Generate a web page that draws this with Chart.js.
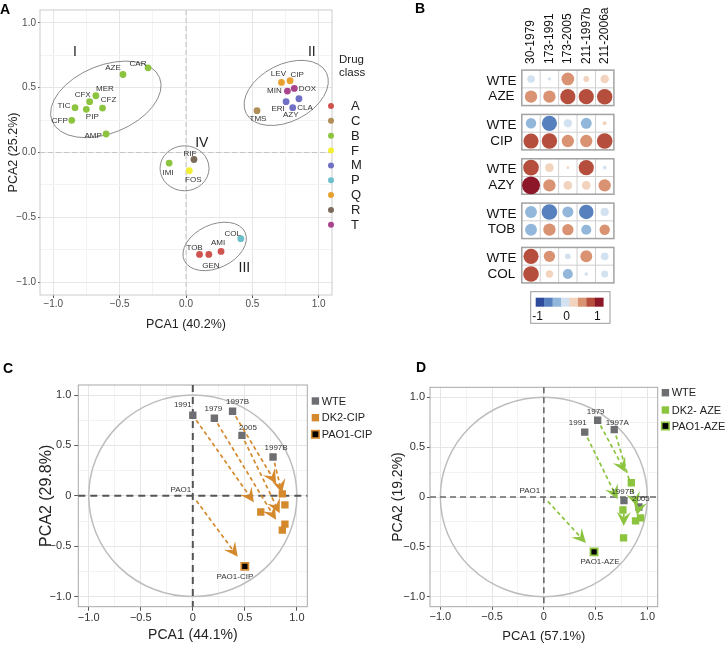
<!DOCTYPE html>
<html>
<head>
<meta charset="utf-8">
<script src="https://cdn.jsdelivr.net/npm/chart.js@4.4.1/dist/chart.umd.min.js"></script>
<style>
html, body { margin: 0; padding: 0; background: #fff; }
#wrap { position: relative; width: 726px; height: 646px; overflow: hidden; }
canvas { position: absolute; }
.tag { position: absolute; font: bold 14px "Liberation Sans", Arial, sans-serif; color: #000; }
</style>
</head>
<body>
<div id="wrap">
  <canvas id="chartA" width="400" height="335" style="left:0;top:0"></canvas>
  <canvas id="chartB" width="366" height="330" style="left:360px;top:0"></canvas>
  <canvas id="chartC" width="400" height="311" style="left:0;top:335px"></canvas>
  <canvas id="chartD" width="366" height="311" style="left:360px;top:335px"></canvas>
  <div class="tag" style="left:0;top:1px">A</div>
  <div class="tag" style="left:415px;top:0">B</div>
  <div class="tag" style="left:3px;top:360px">C</div>
  <div class="tag" style="left:416px;top:359px">D</div>
</div>
<script>
// ---------- data: panel A (drug PCA) ----------
const drugNames = ['CAR','AZE','MER','CFX','CFZ','TIC','PIP','CFP','AMP','IMI','RIF','FOS','COL','AMI','GEN','TOB','LEV','CIP','MIN','DOX','ERI','CLA','AZY','TMS'];
const drugPca1 = [-0.286,-0.475,-0.679,-0.726,-0.629,-0.836,-0.751,-0.861,-0.602,-0.127,0.060,0.025,0.413,0.264,0.172,0.102,0.719,0.784,0.764,0.816,0.754,0.851,0.804,0.535];
const drugPca2 = [0.654,0.602,0.438,0.392,0.343,0.346,0.333,0.248,0.143,-0.082,-0.054,-0.141,-0.665,-0.764,-0.787,-0.787,0.541,0.554,0.474,0.495,0.392,0.415,0.346,0.323];
const drugClass = ['B','B','B','B','B','B','B','B','B','B','R','F','P','A','A','A','Q','Q','T','T','M','M','M','C'];
const classOrder = ['A','C','B','F','M','P','Q','R','T'];
const classColors = ['#cf5450','#b18e58','#8cc43f','#f2ee35','#7070c4','#6cbfcb','#e8a031','#7b6b5a','#a9448d'];
const clusterNames = ['I','II','III','IV'];
const clusterCx = [-0.604, 0.755, 0.216, -0.011];
const clusterCy = [0.41, 0.46, -0.725, -0.122];

// ---------- data: panel B (correlations) ----------
const strainCols = ['30-1979','173-1991','173-2005','211-1997b','211-2006a'];
const drugRows = ['AZE','CIP','AZY','TOB','COL'];
const corrWTE = [
  [-0.17, -0.03, 0.48, 0.10, 0.21],
  [-0.32, -0.68, -0.20, -0.35, 0.05],
  [0.72, 0.22, 0.02, 0.68, -0.04],
  [-0.42, -0.72, -0.36, -0.62, -0.20],
  [0.68, 0.38, -0.10, 0.42, -0.18]
];
const corrDrug = [
  [0.45, 0.45, 0.68, 0.68, 0.70],
  [0.68, 0.70, 0.45, 0.45, 0.72],
  [0.95, 0.45, 0.22, 0.22, 0.45],
  [-0.42, 0.45, 0.38, -0.30, 0.32],
  [0.72, 0.16, -0.30, -0.04, -0.15]
];
const binColors = ['#2e4b9b','#5680be','#93b7da','#d3e2f0','#f2d3be','#d99372','#b54e3c','#8c1729'];

// ---------- data: panel C (CIP) ----------
const wteNamesC = ['1991','1979','1997B','2005','1997B'];
const wteC1 = [0, 0.207, 0.382, 0.472, 0.771];
const wteC2 = [0.80, 0.77, 0.84, 0.60, 0.386];
const dk2C1 = [0.653, 0.86, 0.86, 0.885, 0.885];
const dk2C2 = [-0.16, -0.34, 0.02, -0.28, -0.09];
const paoC = [0.5, -0.70];

// ---------- data: panel D (AZE) ----------
const wteNamesD = ['1991','1979','1997A','1997B','2005'];
const wteD1 = [0.395, 0.52, 0.68, 0.774, 0.918];
const wteD2 = [0.65, 0.77, 0.675, -0.036, -0.10];
const dk2D1 = [0.764, 0.845, 0.935, 0.77, 0.886];
const dk2D2 = [-0.13, 0.143, -0.21, -0.41, -0.24];
const paoD = [0.485, -0.55];

// ---------- layout (pixels, not data) ----------
const labelOffA = [[-10,-4],[-10,-7],[9,-7],[-7,-7],[6,-8],[-11,-2],[6,7],[-12,0],[-13,2],[-1,10],[-4,-6],[4,9],[-8,-5],[-3,-9],[2,11],[-5,-7],[-3,-9],[7,-6],[-13,0],[13,0],[-8,7],[6,9],[-2,7],[1,8]];
const ellipseShape = [[58,34,-22],[45,28.5,-27],[33.5,21.7,-25],[24.5,22.5,0]];
const romanPos = [[-0.836,0.772],[0.948,0.772],[0.44,-0.89],[0.119,0.072]];
const labelOffC = [[-10,-10],[-1,-9],[5,-9],[6,-8],[3,-9]];
const labelOffD = [[-7,-9],[-2,-8],[3,-7],[-1,-9],[2,-8]];

Chart.defaults.font.family = "'Liberation Sans', Arial, sans-serif";
Chart.defaults.animation = false;
Chart.defaults.responsive = false;

const isMajor = v => Math.abs(v * 2 - Math.round(v * 2)) < 1e-6;
const fmt = zero => v => {
  if (!isMajor(v)) return '';
  if (Math.abs(v) < 1e-9) return zero;
  return (v < 0 ? '\u2212' : '') + Math.abs(v).toFixed(1);
};

function pcaAxis(o) {
  return {
    type: 'linear', min: -1.1, max: 1.1,
    afterFit: s => { if (o.w) s.width = o.w; if (o.h) s.height = o.h; },
    ticks: {
      stepSize: 0.25, includeBounds: false, autoSkip: false, maxRotation: 0,
      padding: o.pad, color: o.tickColor, font: { size: o.tickSize },
      callback: fmt(o.zero)
    },
    grid: {
      color: c => isMajor(c.tick.value) ? '#e6e6e6' : '#f3f3f3',
      lineWidth: 1, tickLength: o.tickLen,
      tickColor: c => isMajor(c.tick.value) ? '#555' : 'rgba(0,0,0,0)'
    },
    border: { display: false },
    title: { display: true, text: o.title, color: '#222', font: { size: o.titleSize }, padding: o.titlePad }
  };
}

// ---------- panel A ----------
const datasetsA = classOrder.map((cl, k) => ({
  label: cl,
  data: drugNames.map((n, i) => ({ x: drugPca1[i], y: drugPca2[i], c: drugClass[i] })).filter(p => p.c === cl),
  backgroundColor: classColors[k], borderWidth: 0, pointRadius: 3.4
}));

const panelA = {
  id: 'panelA',
  beforeDatasetsDraw(chart) {
    const { ctx, chartArea: a, scales: { x, y } } = chart;
    ctx.save();
    ctx.strokeStyle = '#c4c4c4'; ctx.lineWidth = 1; ctx.setLineDash([5, 3]);
    ctx.beginPath();
    ctx.moveTo(x.getPixelForValue(0), a.top); ctx.lineTo(x.getPixelForValue(0), a.bottom);
    ctx.moveTo(a.left, y.getPixelForValue(0)); ctx.lineTo(a.right, y.getPixelForValue(0));
    ctx.stroke();
    ctx.setLineDash([]);
    ctx.strokeStyle = '#cccccc';
    ctx.strokeRect(a.left, a.top, a.width, a.height);
    ctx.strokeStyle = '#8a8a8a'; ctx.lineWidth = 1;
    clusterNames.forEach((nm, i) => {
      const [rx, ry, rot] = ellipseShape[i];
      ctx.beginPath();
      ctx.ellipse(x.getPixelForValue(clusterCx[i]), y.getPixelForValue(clusterCy[i]), rx, ry, rot * Math.PI / 180, 0, 2 * Math.PI);
      ctx.stroke();
    });
    ctx.fillStyle = '#222'; ctx.font = "14px 'Liberation Sans', Arial, sans-serif";
    ctx.textAlign = 'center'; ctx.textBaseline = 'middle';
    clusterNames.forEach((nm, i) => {
      ctx.fillText(nm, x.getPixelForValue(romanPos[i][0]), y.getPixelForValue(romanPos[i][1]));
    });
    ctx.restore();
  },
  afterDatasetsDraw(chart) {
    const { ctx, scales: { x, y } } = chart;
    ctx.save();
    ctx.fillStyle = '#333'; ctx.font = "8px 'Liberation Sans', Arial, sans-serif";
    ctx.textAlign = 'center'; ctx.textBaseline = 'middle';
    drugNames.forEach((n, i) => {
      ctx.fillText(n, x.getPixelForValue(drugPca1[i]) + labelOffA[i][0], y.getPixelForValue(drugPca2[i]) + labelOffA[i][1]);
    });
    // legend
    ctx.fillStyle = '#222'; ctx.textAlign = 'left';
    ctx.font = "11.5px 'Liberation Sans', Arial, sans-serif";
    ctx.fillText('Drug', 339, 60);
    ctx.fillText('class', 339, 73);
    ctx.font = "13px 'Liberation Sans', Arial, sans-serif";
    classOrder.forEach((cl, k) => {
      const yy = 106 + k * 14.85;
      ctx.fillStyle = classColors[k];
      ctx.beginPath(); ctx.arc(331, yy, 3, 0, 2 * Math.PI); ctx.fill();
      ctx.fillStyle = '#222';
      ctx.fillText(cl, 351, yy + 0.5);
    });
    ctx.restore();
  }
};

new Chart(document.getElementById('chartA'), {
  type: 'scatter',
  data: { datasets: datasetsA },
  options: {
    layout: { padding: { left: 0, right: 68, top: 10, bottom: 0 } },
    plugins: { legend: { display: false }, tooltip: { enabled: false } },
    scales: {
      x: pcaAxis({ h: 40, pad: 0, tickColor: '#4d4d4d', tickSize: 10, zero: '0.0', tickLen: 3, title: 'PCA1 (40.2%)', titleSize: 12.5, titlePad: { top: 0, bottom: 2.5 } }),
      y: pcaAxis({ w: 40, pad: 2, tickColor: '#4d4d4d', tickSize: 10, zero: '0.0', tickLen: 2, title: 'PCA2 (25.2%)', titleSize: 12.5, titlePad: { top: 5.8, bottom: 0 } })
    }
  },
  plugins: [panelA]
});

// ---------- panel B ----------
const binColor = v => binColors[Math.min(7, Math.max(0, Math.floor((v + 1) / 0.25)))];
const pointsB = [];
drugRows.forEach((d, g) => {
  strainCols.forEach((s, c) => {
    pointsB.push({ x: c, y: g * 2.5, v: corrWTE[g][c] });
    pointsB.push({ x: c, y: g * 2.5 + 1, v: corrDrug[g][c] });
  });
});

const panelB = {
  id: 'panelB',
  beforeDatasetsDraw(chart) {
    const { ctx, scales: { x, y } } = chart;
    ctx.save();
    drugRows.forEach((d, g) => {
      const x0 = x.getPixelForValue(-0.5), x1 = x.getPixelForValue(4.5);
      const y0 = y.getPixelForValue(g * 2.5 - 0.5), y1 = y.getPixelForValue(g * 2.5 + 1.5);
      ctx.fillStyle = '#fff'; ctx.fillRect(x0, y0, x1 - x0, y1 - y0);
      ctx.strokeStyle = '#cfcfcf'; ctx.lineWidth = 1;
      ctx.beginPath();
      for (let c = 0.5; c < 4.5; c += 1) { ctx.moveTo(x.getPixelForValue(c), y0); ctx.lineTo(x.getPixelForValue(c), y1); }
      ctx.moveTo(x0, y.getPixelForValue(g * 2.5 + 0.5)); ctx.lineTo(x1, y.getPixelForValue(g * 2.5 + 0.5));
      ctx.stroke();
      ctx.strokeStyle = '#a3a3a3'; ctx.lineWidth = 1.5;
      ctx.strokeRect(x0, y0, x1 - x0, y1 - y0);
    });
    ctx.restore();
  },
  afterDraw(chart) {
    const { ctx, scales: { x, y } } = chart;
    ctx.save();
    ctx.fillStyle = '#111';
    // column headers
    ctx.font = "12px 'Liberation Sans', Arial, sans-serif";
    ctx.textAlign = 'left'; ctx.textBaseline = 'middle';
    strainCols.forEach((s, c) => {
      ctx.save();
      ctx.translate(x.getPixelForValue(c), 64);
      ctx.rotate(-Math.PI / 2);
      ctx.fillText(s, 0, 0);
      ctx.restore();
    });
    // row labels
    ctx.font = "13.5px 'Liberation Sans', Arial, sans-serif";
    ctx.textAlign = 'center';
    drugRows.forEach((d, g) => {
      ctx.fillText('WTE', 141.5, y.getPixelForValue(g * 2.5) + 2);
      ctx.fillText(d, 141.5, y.getPixelForValue(g * 2.5 + 1));
    });
    // colour key
    ctx.strokeStyle = '#999'; ctx.lineWidth = 1;
    ctx.strokeRect(170.7, 291.7, 79.3, 31.6);
    const w = (243.3 - 175.7) / binColors.length;
    binColors.forEach((col, i) => { ctx.fillStyle = col; ctx.fillRect(175.7 + i * w, 297.7, w + 0.3, 9); });
    ctx.fillStyle = '#111';
    ctx.font = "12px 'Liberation Sans', Arial, sans-serif";
    ctx.fillText('-1', 177.7, 316.5);
    ctx.fillText('0', 206.7, 316.5);
    ctx.fillText('1', 237.3, 316.5);
    ctx.restore();
  }
};

new Chart(document.getElementById('chartB'), {
  type: 'scatter',
  data: {
    datasets: [{
      data: pointsB,
      pointRadius: c => 9.2 * Math.sqrt(Math.abs(c.raw.v)),
      backgroundColor: c => binColor(c.raw.v),
      borderWidth: 0
    }]
  },
  options: {
    layout: { padding: { left: 161.8, right: 112.1, top: 70.1, bottom: 47.1 } },
    plugins: { legend: { display: false }, tooltip: { enabled: false } },
    scales: {
      x: { type: 'linear', min: -0.5, max: 4.5, display: false },
      y: { type: 'linear', min: -0.5, max: 11.5, reverse: true, display: false }
    }
  },
  plugins: [panelB]
});

// ---------- panels C and D ----------
function drawArrow(ctx, x0, y0, x1, y1, color, dash) {
  const dx = x1 - x0, dy = y1 - y0, len = Math.hypot(dx, dy);
  const ux = dx / len, uy = dy / len, px = -uy, py = ux;
  const gap = Math.min(12, len * 0.4);
  const tx = x1 - ux * gap, ty = y1 - uy * gap;
  const headLen = 14, halfW = 7, notch = 8.5;
  const sx = x0 + ux * 6, sy = y0 + uy * 6;
  ctx.strokeStyle = color; ctx.fillStyle = color;
  const ex = tx - ux * notch, ey = ty - uy * notch;
  if ((ex - sx) * ux + (ey - sy) * uy > 0) {
    ctx.setLineDash(dash); ctx.lineWidth = 1.7;
    ctx.beginPath(); ctx.moveTo(sx, sy); ctx.lineTo(ex, ey); ctx.stroke();
    ctx.setLineDash([]);
  }
  const bx = tx - ux * headLen, by = ty - uy * headLen;
  ctx.beginPath();
  ctx.moveTo(tx, ty);
  ctx.lineTo(bx + px * halfW, by + py * halfW);
  ctx.lineTo(ex, ey);
  ctx.lineTo(bx - px * halfW, by - py * halfW);
  ctx.closePath(); ctx.fill();
}

function pcaPanel(o) {
  return {
    id: 'pca' + o.key,
    beforeDatasetsDraw(chart) {
      const { ctx, chartArea: a, scales: { x, y } } = chart;
      const cx = x.getPixelForValue(0), cy = y.getPixelForValue(0);
      ctx.save();
      ctx.strokeStyle = '#a8a8a8'; ctx.lineWidth = 1;
      ctx.strokeRect(a.left, a.top, a.width, a.height);
      ctx.strokeStyle = '#bdbdbd'; ctx.lineWidth = 1.5;
      ctx.beginPath();
      ctx.ellipse(cx, cy, x.getPixelForValue(1) - cx, cy - y.getPixelForValue(1), 0, 0, 2 * Math.PI);
      ctx.stroke();
      ctx.strokeStyle = o.zeroColor; ctx.lineWidth = o.zeroWidth; ctx.setLineDash(o.zeroDash);
      ctx.beginPath();
      ctx.moveTo(cx, a.top); ctx.lineTo(cx, a.bottom);
      ctx.moveTo(a.left, cy); ctx.lineTo(a.right, cy);
      ctx.stroke();
      ctx.restore();
    },
    afterDatasetsDraw(chart) {
      const { ctx, scales: { x, y } } = chart;
      ctx.save();
      o.w1.forEach((v, i) => {
        drawArrow(ctx, x.getPixelForValue(v), y.getPixelForValue(o.w2[i]),
          x.getPixelForValue(o.d1[i]), y.getPixelForValue(o.d2[i]), o.color, [4, 3]);
      });
      drawArrow(ctx, x.getPixelForValue(0), y.getPixelForValue(0),
        x.getPixelForValue(o.pao[0]), y.getPixelForValue(o.pao[1]), o.color, [4, 3]);
      ctx.fillStyle = '#333'; ctx.font = "8px 'Liberation Sans', Arial, sans-serif";
      ctx.textAlign = 'center'; ctx.textBaseline = 'middle';
      o.names.forEach((n, i) => {
        ctx.fillText(n, x.getPixelForValue(o.w1[i]) + o.off[i][0], y.getPixelForValue(o.w2[i]) + o.off[i][1]);
      });
      ctx.fillText('PAO1', x.getPixelForValue(0) + o.paoOff[0], y.getPixelForValue(0) + o.paoOff[1]);
      ctx.fillText(o.paoName, x.getPixelForValue(o.pao[0]) + o.paoLblOff[0], y.getPixelForValue(o.pao[1]) + o.paoLblOff[1]);
      ctx.restore();
    },
    afterDraw(chart) {
      const { ctx } = chart;
      ctx.save();
      ctx.font = "11px 'Liberation Sans', Arial, sans-serif";
      ctx.textBaseline = 'middle'; ctx.textAlign = 'left';
      o.legend.forEach((it, i) => {
        const yy = o.legY[i];
        ctx.fillStyle = it[1];
        ctx.fillRect(o.legX, yy - 3.7, 7.4, 7.4);
        if (it[2]) { ctx.strokeStyle = it[2]; ctx.lineWidth = 1.6; ctx.strokeRect(o.legX, yy - 3.7, 7.4, 7.4); }
        ctx.fillStyle = '#222';
        ctx.fillText(it[0], o.legX + 10, yy + 0.5);
      });
      ctx.restore();
    }
  };
}

function pcaDatasets(w1, w2, d1, d2, pao, color) {
  return [
    { data: w1.map((v, i) => ({ x: v, y: w2[i] })), pointStyle: 'rect', pointRadius: 5.2, backgroundColor: '#6d6e71', borderWidth: 0, order: 3 },
    { data: d1.map((v, i) => ({ x: v, y: d2[i] })), pointStyle: 'rect', pointRadius: 5.2, backgroundColor: color, borderWidth: 0, order: 2 },
    { data: [{ x: pao[0], y: pao[1] }], pointStyle: 'rect', pointRadius: 5, backgroundColor: '#000', borderColor: color, borderWidth: 1.8, order: 1 }
  ];
}

const orangeC = '#d5892d';
new Chart(document.getElementById('chartC'), {
  type: 'scatter',
  data: { datasets: pcaDatasets(wteC1, wteC2, dk2C1, dk2C2, paoC, orangeC) },
  options: {
    layout: { padding: { left: 0, right: 92.7, top: 50, bottom: 0 } },
    plugins: { legend: { display: false }, tooltip: { enabled: false } },
    scales: {
      x: pcaAxis({ h: 39.3, pad: 1, tickColor: '#333', tickSize: 11, zero: '0', tickLen: 4, title: 'PCA1 (44.1%)', titleSize: 14, titlePad: { top: 0, bottom: 2.6 } }),
      y: pcaAxis({ w: 78.3, pad: 3, tickColor: '#333', tickSize: 11, zero: '0', tickLen: 4, title: 'PCA2 (29.8%)', titleSize: 16, titlePad: { top: 37, bottom: 0 } })
    }
  },
  plugins: [pcaPanel({
    key: 'C', w1: wteC1, w2: wteC2, d1: dk2C1, d2: dk2C2, pao: paoC, color: orangeC,
    names: wteNamesC, off: labelOffC, paoOff: [-12, -6], paoName: 'PAO1-CIP', paoLblOff: [-10, 10],
    zeroColor: '#555', zeroWidth: 2, zeroDash: [7, 5],
    legend: [['WTE', '#6d6e71'], ['DK2-CIP', orangeC], ['PAO1-CIP', '#000', orangeC]],
    legX: 311.7, legY: [66, 82.7, 99.3]
  })]
});

const greenD = '#8cc43f';
new Chart(document.getElementById('chartD'), {
  type: 'scatter',
  data: { datasets: pcaDatasets(wteD1, wteD2, dk2D1, dk2D2, paoD, greenD) },
  options: {
    layout: { padding: { left: 0, right: 68.3, top: 52.3, bottom: 0 } },
    plugins: { legend: { display: false }, tooltip: { enabled: false } },
    scales: {
      x: pcaAxis({ h: 39.3, pad: 1, tickColor: '#333', tickSize: 11, zero: '0', tickLen: 3, title: 'PCA1 (57.1%)', titleSize: 13, titlePad: { top: 0, bottom: 1.5 } }),
      y: pcaAxis({ w: 70, pad: 2, tickColor: '#333', tickSize: 11, zero: '0', tickLen: 3, title: 'PCA2 (19.2%)', titleSize: 14, titlePad: { top: 29.9, bottom: 0 } })
    }
  },
  plugins: [pcaPanel({
    key: 'D', w1: wteD1, w2: wteD2, d1: dk2D1, d2: dk2D2, pao: paoD, color: greenD,
    names: wteNamesD, off: labelOffD, paoOff: [-14, -6], paoName: 'PAO1-AZE', paoLblOff: [6, 10],
    zeroColor: '#6a6a6a', zeroWidth: 1.6, zeroDash: [6, 4],
    legend: [['WTE', '#6d6e71'], ['DK2- AZE', greenD], ['PAO1-AZE', '#000', greenD]],
    legX: 301.7, legY: [57.7, 75, 91]
  })]
});
</script>
</body>
</html>
